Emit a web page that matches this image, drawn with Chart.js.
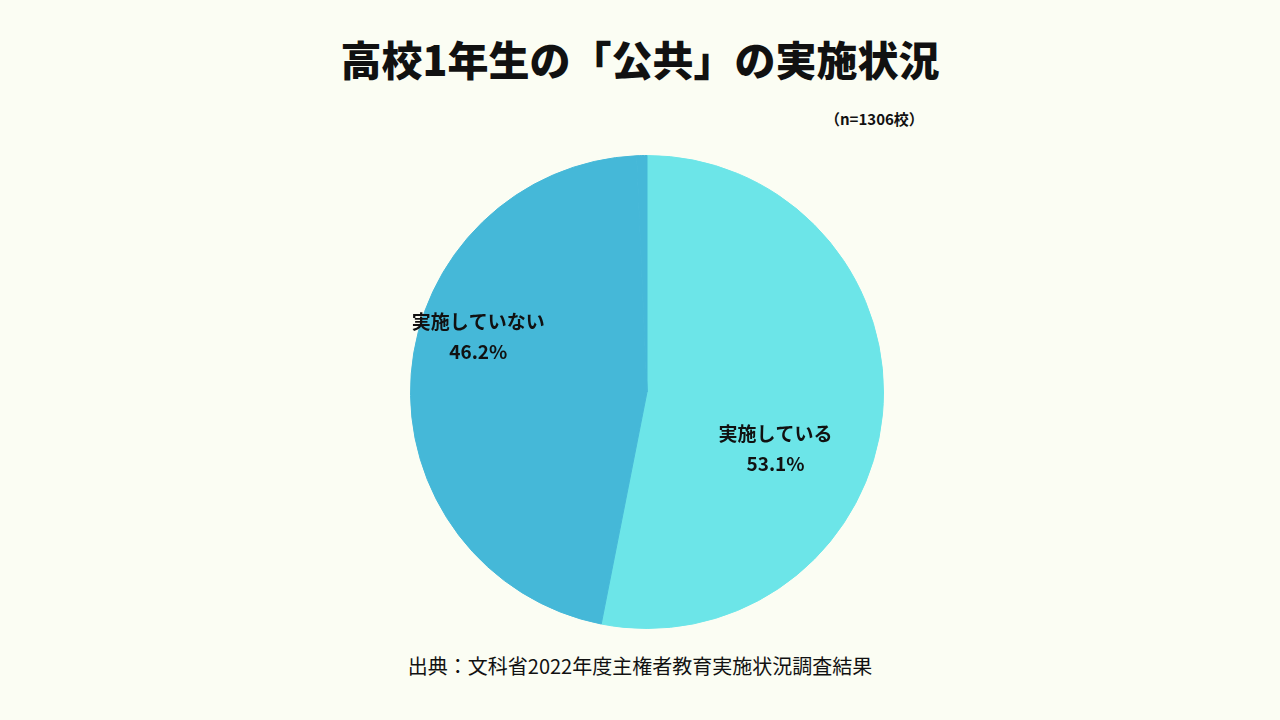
<!DOCTYPE html>
<html><head><meta charset="utf-8">
<script src="https://cdn.jsdelivr.net/npm/chart.js@4"></script>
<style>
html,body{margin:0;width:1280px;height:720px;background:#fbfdf3;font-family:"Noto Sans CJK JP","Noto Sans",sans-serif;overflow:hidden}
#t{position:absolute;top:28px;left:0;width:1280px;text-align:center;font-size:41px;font-weight:900;color:#111}
#n{position:absolute;top:108px;left:825px;font-size:15px;font-weight:700;color:#111}
#s{position:absolute;top:651px;left:0;width:1280px;text-align:center;font-size:20px;color:#111}
#w{position:absolute;left:407px;top:152px;width:480px;height:480px}
</style></head><body>
<div id="t">高校1年生の「公共」の実施状況</div>
<div id="n">（n=1306校）</div>
<div id="w"><canvas id="c"></canvas></div>
<div id="s">出典：文科省2022年度主権者教育実施状況調査結果</div>
<script>
const categories=["実施している","実施していない",""];
const values=[53.1,46.2,0.7];
const colors=["#6ce5e8","#45b8d8","#45b8d8"];
const labelPlugin={id:"lbl",afterDatasetsDraw(chart){
  const ctx=chart.ctx,meta=chart.getDatasetMeta(0);
  const pos=[[24,0.595],[198,0.75]];
  for(let i=0;i<2;i++){
    const a=meta.data[i];const m=pos[i][0]*Math.PI/180;
    const x=a.x+Math.cos(m)*a.outerRadius*pos[i][1], y=a.y+Math.sin(m)*a.outerRadius*pos[i][1];
    ctx.save();ctx.fillStyle="#111";ctx.textAlign="center";ctx.textBaseline="middle";
    ctx.font="bold 19px 'Noto Sans CJK JP'";
    ctx.fillText(categories[i],x,y-15);ctx.fillText(values[i].toFixed(1)+"%",x,y+15);
    ctx.restore();
  }}};
new Chart(document.getElementById("c"),{type:"pie",
 data:{labels:categories,datasets:[{data:values,backgroundColor:colors,borderColor:colors,borderWidth:1}]},
 options:{responsive:true,maintainAspectRatio:false,animation:false,layout:{padding:3},
  plugins:{legend:{display:false},tooltip:{enabled:false}}},
 plugins:[labelPlugin]});
</script></body></html>
